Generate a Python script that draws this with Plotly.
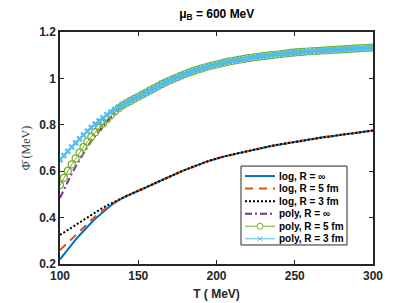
import plotly.graph_objects as go

# Temperature grid (MeV)
T_left = [100, 102.5, 105, 107.5, 110, 112.5, 115, 117.5, 120, 122.5, 125, 127.5, 130, 132.5, 135, 137.5]
T_right = [140, 142.5, 145, 147.5, 150, 152.5, 155, 157.5, 160, 162.5, 165, 167.5, 170, 172.5, 175, 177.5,
           180, 182.5, 185, 187.5, 190, 192.5, 195, 197.5, 200, 202.5, 205, 207.5, 210, 212.5, 215, 217.5,
           220, 222.5, 225, 227.5, 230, 232.5, 235, 237.5, 240, 242.5, 245, 247.5, 250, 252.5, 255, 257.5,
           260, 262.5, 265, 267.5, 270, 272.5, 275, 277.5, 280, 282.5, 285, 287.5, 290, 292.5, 295, 297.5, 300]

# "log" parametrisation, low-T part
log_inf_left = [0.220, 0.242, 0.264, 0.285, 0.305, 0.324, 0.343, 0.361, 0.378, 0.395, 0.410, 0.425, 0.439, 0.452, 0.464, 0.475]
log_5fm_left = [0.260, 0.276, 0.293, 0.310, 0.327, 0.344, 0.360, 0.376, 0.391, 0.405, 0.419, 0.432, 0.444, 0.455, 0.466, 0.476]
log_3fm_left = [0.325, 0.335, 0.346, 0.357, 0.368, 0.379, 0.390, 0.401, 0.412, 0.423, 0.433, 0.443, 0.452, 0.461, 0.469, 0.477]
# "log" curves coincide above ~140 MeV
log_common = [0.485, 0.493, 0.500, 0.507, 0.514, 0.522, 0.530, 0.538, 0.546, 0.554, 0.562, 0.570, 0.578, 0.585, 0.592, 0.599,
              0.606, 0.613, 0.620, 0.626, 0.632, 0.638, 0.644, 0.650, 0.655, 0.659, 0.664, 0.668, 0.672, 0.676, 0.680, 0.684,
              0.688, 0.692, 0.695, 0.699, 0.702, 0.705, 0.709, 0.712, 0.715, 0.718, 0.721, 0.724, 0.727, 0.730, 0.733, 0.735,
              0.738, 0.740, 0.743, 0.745, 0.748, 0.750, 0.753, 0.755, 0.757, 0.759, 0.762, 0.764, 0.766, 0.768, 0.771, 0.773, 0.775]

# "poly" parametrisation, low-T part
poly_inf_left = [0.485, 0.521, 0.556, 0.589, 0.620, 0.650, 0.678, 0.705, 0.730, 0.753, 0.775, 0.795, 0.814, 0.832, 0.849, 0.864]
poly_5fm_left = [0.540, 0.571, 0.601, 0.629, 0.655, 0.680, 0.704, 0.727, 0.748, 0.768, 0.788, 0.806, 0.824, 0.841, 0.857, 0.871]
poly_3fm_left = [0.650, 0.668, 0.686, 0.704, 0.722, 0.739, 0.756, 0.772, 0.788, 0.803, 0.817, 0.830, 0.843, 0.855, 0.866, 0.876]
# "poly" curves coincide above ~140 MeV
poly_common = [0.884, 0.894, 0.903, 0.912, 0.921, 0.930, 0.939, 0.948, 0.957, 0.966, 0.975, 0.983, 0.991, 0.998, 1.005, 1.012,
               1.019, 1.025, 1.031, 1.037, 1.042, 1.047, 1.052, 1.056, 1.060, 1.064, 1.068, 1.072, 1.075, 1.078, 1.081, 1.084,
               1.087, 1.089, 1.092, 1.094, 1.096, 1.098, 1.100, 1.102, 1.104, 1.106, 1.108, 1.110, 1.112, 1.113, 1.114, 1.116,
               1.117, 1.118, 1.119, 1.120, 1.121, 1.122, 1.123, 1.124, 1.125, 1.126, 1.127, 1.128, 1.129, 1.130, 1.131, 1.132, 1.133]

series_names = ["log, R = ∞", "log, R = 5 fm", "log, R = 3 fm", "poly, R = ∞", "poly, R = 5 fm", "poly, R = 3 fm"]

x_ticks = [100, 150, 200, 250, 300]
y_ticks = [0.2, 0.4, 0.6, 0.8, 1.0, 1.2]
y_tick_labels = ["0.2", "0.4", "0.6", "0.8", "1", "1.2"]

T = T_left + T_right

BLUE, ORANGE, BLACK, PURPLE, GREEN, CYAN = "#0072BD", "#D95319", "#000000", "#7E2F8E", "#77AC30", "#4DBEEE"
styles = [
    dict(color=BLUE, width=2, dash="solid"),
    dict(color=ORANGE, width=2, dash="8px,6px"),
    dict(color=BLACK, width=2, dash="2px,2px"),
    dict(color=PURPLE, width=2, dash="7px,3px,2px,3px"),
    dict(color=GREEN, width=1, dash="solid"),
    dict(color=CYAN, width=1, dash="solid"),
]

fig = go.Figure()
fig.add_trace(go.Scatter(x=T, y=log_inf_left + log_common, mode="lines", name=series_names[0], line=styles[0]))
fig.add_trace(go.Scatter(x=T, y=log_5fm_left + log_common, mode="lines", name=series_names[1], line=styles[1]))
fig.add_trace(go.Scatter(x=T, y=log_3fm_left + log_common, mode="lines", name=series_names[2], line=styles[2]))
fig.add_trace(go.Scatter(x=T, y=poly_inf_left + poly_common, mode="lines", name=series_names[3], line=styles[3]))
fig.add_trace(go.Scatter(x=T, y=poly_5fm_left + poly_common, mode="lines+markers", name=series_names[4],
                         line=styles[4],
                         marker=dict(symbol="circle-open", size=7, color=GREEN, line=dict(width=1.2))))
fig.add_trace(go.Scatter(x=T, y=poly_3fm_left + poly_common, mode="lines+markers", name=series_names[5],
                         line=styles[5],
                         marker=dict(symbol="x-thin-open", size=5, color=CYAN, line=dict(width=2.2, color=CYAN))))

# ---- compact legend box (MATLAB-style), built from shapes + annotations ----
PL, PR, PT, PB = 52, 365, 24, 268  # plot area in pixels


def px(x):
    return (x - PL) / (PR - PL)


def py(y):
    return (PB - y) / (PB - PT)


shapes = [dict(type="rect", xref="paper", yref="paper", x0=px(233), x1=px(339), y0=py(248), y1=py(165),
               line=dict(color="#262626", width=1), fillcolor="white", layer="above")]
annotations = []
row_y = [175.5 + 13.2 * i for i in range(6)]
for i, (name, st) in enumerate(zip(series_names, styles)):
    yy = py(row_y[i])
    shapes.append(dict(type="line", xref="paper", yref="paper", x0=px(237), x1=px(267), y0=yy, y1=yy,
                       line=dict(color=st["color"], width=st["width"], dash=st["dash"]), layer="above"))
    annotations.append(dict(xref="paper", yref="paper", x=px(268.5), y=yy, xanchor="left", yanchor="middle",
                            text=f"<b>{name}</b>", showarrow=False,
                            font=dict(family="Liberation Sans, Arial", size=10, color="#000000")))
# legend markers
cx = px(252)
shapes.append(dict(type="circle", xref="paper", yref="paper", xsizemode="pixel", ysizemode="pixel",
                   xanchor=cx, yanchor=py(row_y[4]), x0=-3, x1=3, y0=-3, y1=3,
                   line=dict(color=GREEN, width=1), fillcolor="white", layer="above"))
for sgn in (1, -1):
    shapes.append(dict(type="line", xref="paper", yref="paper", xsizemode="pixel", ysizemode="pixel",
                       xanchor=cx, yanchor=py(row_y[5]), x0=-2.5, x1=2.5, y0=-2.5 * sgn, y1=2.5 * sgn,
                       line=dict(color=CYAN, width=1), layer="above"))

axis_common = dict(showline=True, linecolor="#262626", linewidth=1.5, mirror="ticks", ticks="inside",
                   ticklen=4, tickcolor="#262626", tickwidth=1, showgrid=False, zeroline=False,
                   tickfont=dict(family="Liberation Sans, Arial", size=12, color="#262626"))

fig.update_layout(
    width=403, height=303,
    margin=dict(l=PL, r=403 - PR, t=PT, b=303 - PB),
    paper_bgcolor="white", plot_bgcolor="white",
    title=dict(text="<b>μ<sub>B</sub> = 600 MeV</b>", x=0.518, xanchor="center", y=0.995, yanchor="top",
               font=dict(family="Liberation Sans, Arial", size=12, color="#000000")),
    xaxis=dict(range=[100, 300], tickvals=x_ticks, ticktext=[f"<b>{v}</b>" for v in x_ticks],
               title=dict(text="<b>T ( MeV)</b>", standoff=7,
                          font=dict(family="Liberation Sans, Arial", size=12, color="#262626")),
               **axis_common),
    yaxis=dict(range=[0.2, 1.2], tickvals=y_ticks, ticktext=[f"<b>{v}</b>" for v in y_tick_labels],
               title=dict(text="Φ̄ (MeV)", standoff=6,
                          font=dict(family="Liberation Serif, Times New Roman", size=12, color="#404040")),
               **axis_common),
    shapes=shapes,
    annotations=annotations,
    showlegend=False,
)

fig.write_html("out.html")
